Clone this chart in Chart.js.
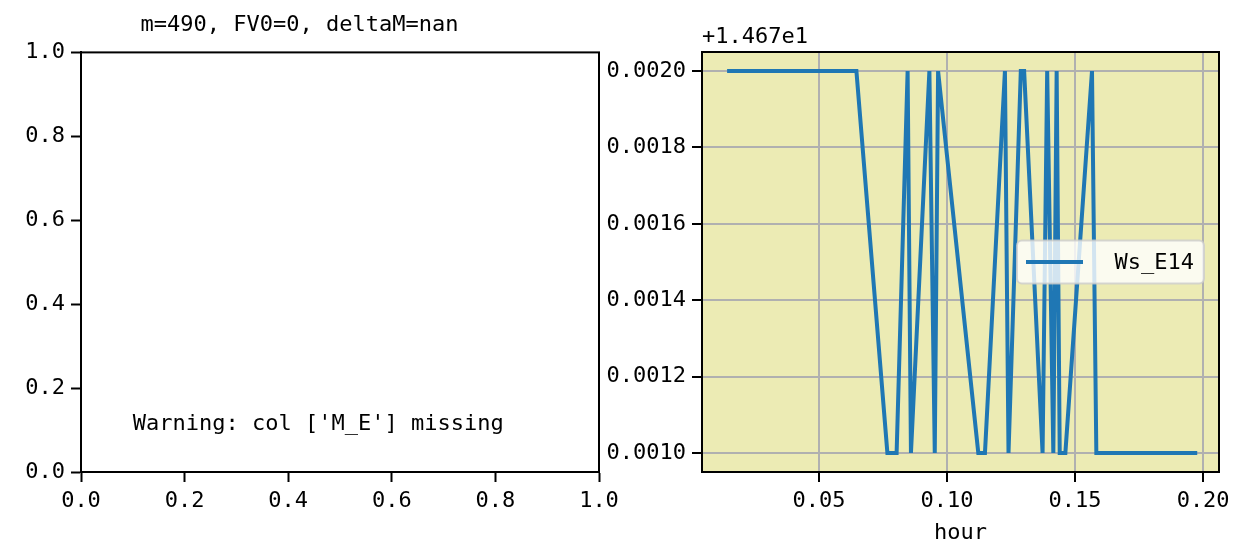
<!DOCTYPE html>
<html>
<head>
<meta charset="utf-8">
<script src="https://cdn.jsdelivr.net/npm/chart.js@4.4.0/dist/chart.umd.min.js"></script>
<style>
  body { margin: 0; background: #fff; }
  #wrap { position: relative; width: 1239px; height: 555px; overflow: hidden; }
  canvas { position: absolute; top: 0; }
</style>
</head>
<body>
<div id="wrap">
  <canvas id="left" width="640" height="555" style="left:0"></canvas>
  <canvas id="right" width="639" height="555" style="left:600px"></canvas>
</div>
<script>
// left panel: empty axes
const leftTitle = "m=490, FV0=0, deltaM=nan";
const leftTicks = [0, 0.2, 0.4, 0.6, 0.8, 1.0];
const warningText = "Warning: col ['M_E'] missing";

// right panel: Ws_E14 vs hour
const hours = [0.0141, 0.0646, 0.0767, 0.0803, 0.0846, 0.0859, 0.0931, 0.0952, 0.0965, 0.1122, 0.1148, 0.1226,
               0.1240, 0.1288, 0.1301, 0.1373, 0.1391, 0.1415, 0.1428, 0.1440, 0.1462, 0.1566, 0.1583, 0.1977];
const wsE14 = [14.672, 14.672, 14.671, 14.671, 14.672, 14.671, 14.672, 14.671, 14.672, 14.671, 14.671, 14.672,
               14.671, 14.672, 14.672, 14.671, 14.672, 14.671, 14.672, 14.671, 14.671, 14.672, 14.671, 14.671];
const xTicks = [0.05, 0.10, 0.15, 0.20];
const yTicks = [14.671, 14.6712, 14.6714, 14.6716, 14.6718, 14.672];
const yOffset = 14.67;
const offsetLabel = "+1.467e1";

const FONT = "'DejaVu Sans Mono', monospace";
const FS = 22;
Chart.defaults.font.family = FONT;
Chart.defaults.font.size = FS;
Chart.defaults.color = "#000";

function axisOpts(ticks, fmt, extra) {
  return Object.assign({
    type: "linear",
    afterBuildTicks: s => { s.ticks = ticks.map(v => ({ value: v })); },
    ticks: { callback: fmt, padding: 6, maxRotation: 0, autoSkip: false },
    grid: { color: "transparent", drawOnChartArea: false, tickColor: "#000", tickLength: 10, tickWidth: 2 },
    border: { color: "#000", width: 2 }
  }, extra);
}

const frame = {
  id: "frame",
  beforeDraw(chart, args, opts) {
    if (!opts.bg) return;
    const a = chart.chartArea, ctx = chart.ctx;
    ctx.save();
    ctx.fillStyle = opts.bg;
    ctx.fillRect(a.left, a.top, a.right - a.left, a.bottom - a.top);
    ctx.restore();
  },
  afterDraw(chart) {
    const a = chart.chartArea, ctx = chart.ctx;
    ctx.save();
    ctx.strokeStyle = "#000";
    ctx.lineWidth = 2;
    ctx.strokeRect(a.left, a.top, a.right - a.left, a.bottom - a.top);
    ctx.restore();
  }
};

// left chart
new Chart(document.getElementById("left"), {
  type: "scatter",
  data: { datasets: [{ data: [] }] },
  options: {
    responsive: false, animation: false,
    layout: { padding: { left: 0, right: 41, top: 0, bottom: 0 } },
    plugins: {
      legend: { display: false }, tooltip: { enabled: false },
      title: { display: true, text: leftTitle, font: { size: FS, weight: "normal" }, padding: { top: 12, bottom: 14 } },
      frame: {}
    },
    scales: {
      x: axisOpts(leftTicks, v => v.toFixed(1), { min: 0, max: 1, afterFit: s => { s.height = 83; } }),
      y: axisOpts(leftTicks, v => v.toFixed(1), { min: 0, max: 1, afterFit: s => { s.width = 81; } })
    }
  },
  plugins: [frame, {
    id: "warn",
    afterDraw(chart) {
      const ctx = chart.ctx;
      const x = chart.scales.x.getPixelForValue(0.1);
      const y = chart.scales.y.getPixelForValue(0.1);
      ctx.save();
      ctx.font = FS + "px " + FONT;
      ctx.fillStyle = "#000";
      ctx.textAlign = "left";
      ctx.textBaseline = "alphabetic";
      ctx.fillText(warningText, x, y);
      ctx.restore();
    }
  }]
});

// right chart
const legendBox = {
  id: "legendBox",
  afterDatasetsDraw(chart) {
    const a = chart.chartArea, ctx = chart.ctx;
    const ds = chart.data.datasets[0];
    const w = 187, h = 43;
    const right = a.right - 15, left = right - w;
    const top = (a.top + a.bottom) / 2 - h / 2;
    ctx.save();
    ctx.beginPath();
    ctx.roundRect(left, top, w, h, 5);
    ctx.fillStyle = "rgba(255,255,255,0.8)";
    ctx.fill();
    ctx.strokeStyle = "rgba(204,204,204,0.8)";
    ctx.lineWidth = 2;
    ctx.stroke();
    ctx.beginPath();
    ctx.moveTo(left + 9, top + h / 2);
    ctx.lineTo(left + 66, top + h / 2);
    ctx.strokeStyle = ds.borderColor;
    ctx.lineWidth = 4;
    ctx.stroke();
    ctx.font = FS + "px " + FONT;
    ctx.fillStyle = "#000";
    ctx.textAlign = "right";
    ctx.textBaseline = "middle";
    ctx.fillText(ds.label, right - 10, top + h / 2 + 1);
    ctx.restore();
  },
  afterDraw(chart) {
    const a = chart.chartArea, ctx = chart.ctx;
    ctx.save();
    ctx.font = FS + "px " + FONT;
    ctx.fillStyle = "#000";
    ctx.textAlign = "left";
    ctx.textBaseline = "alphabetic";
    ctx.fillText(offsetLabel, a.left, a.top - 9);
    ctx.restore();
  }
};

const rightGrid = { color: "#b0b0b0", lineWidth: 2, drawOnChartArea: true, tickColor: "#000", tickLength: 10, tickWidth: 2 };

new Chart(document.getElementById("right"), {
  type: "line",
  data: {
    datasets: [{
      label: "Ws_E14",
      data: hours.map((h, i) => ({ x: h, y: wsE14[i] })),
      borderColor: "#1f77b4",
      borderWidth: 4,
      pointRadius: 0,
      tension: 0,
      fill: false
    }]
  },
  options: {
    responsive: false, animation: false,
    layout: { padding: { left: 0, right: 20, top: 52, bottom: 0 } },
    plugins: { legend: { display: false }, tooltip: { enabled: false }, frame: { bg: "#ecebb4" } },
    scales: {
      x: axisOpts(xTicks, v => v.toFixed(2), {
        min: 0.0043, max: 0.2062, grid: rightGrid,
        title: { display: true, text: "hour", padding: { top: 0, bottom: 9 } },
        afterFit: s => { s.height = 83; }
      }),
      y: axisOpts(yTicks, v => (v - yOffset).toFixed(4), {
        min: 14.67095, max: 14.67205, grid: rightGrid,
        afterFit: s => { s.width = 102; }
      })
    }
  },
  plugins: [frame, legendBox]
});
</script>
</body>
</html>
